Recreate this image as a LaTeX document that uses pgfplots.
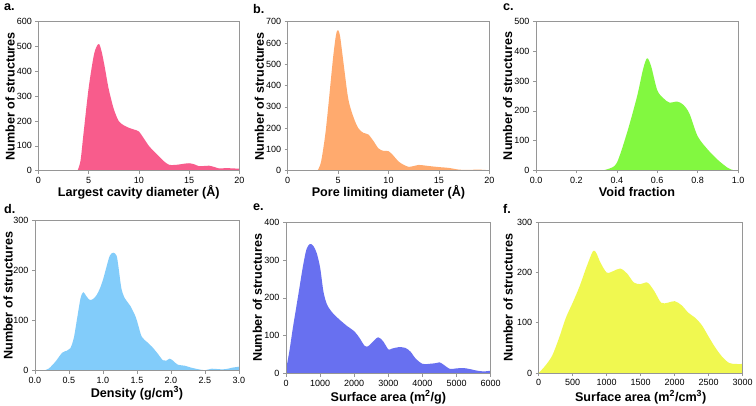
\documentclass[border=0pt]{standalone}
\usepackage{pgfplots}
\pgfplotsset{compat=1.18}
\usepackage{fontspec}
\setmainfont{Liberation Sans}
\definecolor{colA}{RGB}{248,92,140}
\definecolor{colB}{RGB}{255,170,110}
\definecolor{colC}{RGB}{130,248,64}
\definecolor{colD}{RGB}{130,204,250}
\definecolor{colE}{RGB}{104,112,240}
\definecolor{colF}{RGB}{240,248,80}
\definecolor{frame}{RGB}{150,150,150}
\newcommand\labfont{\bfseries\fontsize{12.6bp}{14bp}\selectfont}
\pgfplotsset{
  panel/.style={
    scale only axis, anchor=north west, axis on top,
    axis line style={draw=frame, line width=0.7pt},
    tick style={draw=frame, line width=0.6pt},
    tick align=outside, tick pos=left, major tick length=3bp,
    ticklabel style={font=\fontsize{9bp}{10bp}\selectfont},
    ylabel={Number of structures},
    ylab/.default=-0.14, xlab/.default=-0.145,
    ylab, xlab,
    ymin=0,
    /pgf/number format/assume math mode=true,
    /pgf/number format/1000 sep={},
  },
  ylab/.style={every axis y label/.style={at={(axis description cs:#1,0.5)}, anchor=center, rotate=90, font=\labfont}},
  xlab/.style={every axis x label/.style={at={(axis description cs:0.5,#1)}, anchor=center, font=\labfont}},
  curve/.style={draw=none, fill=#1, smooth, tension=0.5},
}
\begin{document}
\begin{tikzpicture}
\useasboundingbox (0,0) rectangle (756bp,-406bp);
\fill[white] (0,0) rectangle (756bp,-406bp);
% a
\begin{axis}[panel, at={(38.3bp,-21.7bp)}, width=201bp, height=149bp,
  xmin=0, xmax=20, ymax=600, xtick={0,5,10,15,20}, ytick={0,100,...,600},
  xlabel={Largest cavity diameter (Å)}]
\addplot[draw=none, fill=colA] coordinates {(0,3.5) (2.95,3.5)} \closedcycle;
\addplot[curve=colA] coordinates {(3.9,0) (4.2,40) (4.5,150) (5,330) (5.5,460) (5.8,500) (6.05,510) (6.3,480) (6.6,420) (7,330) (7.5,250) (8,200) (8.5,183) (9,173) (9.5,166) (10,158) (10.5,130) (11,100) (11.5,78) (12,58) (12.5,38) (13,24) (13.5,23) (14,25) (14.5,28) (15,30) (15.5,26) (16,18) (16.5,19) (17,20) (17.5,15) (18,9) (18.5,10) (19,10) (19.5,9) (20,8)} \closedcycle;
\end{axis}
% b
\begin{axis}[panel, at={(287.7bp,-21.7bp)}, width=201.6bp, height=149bp,
  xmin=0, xmax=20, ymax=700, xtick={0,5,10,15,20}, ytick={0,100,...,700},
  xlabel={Pore limiting diameter (Å)}]
\addplot[draw=none, fill=colB] coordinates {(0,3) (2,3)} \closedcycle;
\addplot[curve=colB] coordinates {(2.95,0) (3.3,40) (3.7,160) (4,290) (4.5,530) (4.8,640) (5,660) (5.2,630) (5.5,520) (6,340) (6.5,255) (7,200) (7.5,178) (8,170) (8.5,140) (9,105) (9.5,93) (10,92) (10.5,70) (11,43) (11.5,28) (12,18) (12.5,22) (13,27) (13.5,25) (14,22) (15,17) (16,13) (17,5) (18,4) (19,5) (20,2)} \closedcycle;
\end{axis}
% c
\begin{axis}[panel, at={(536bp,-21.7bp)}, width=202bp, height=148.6bp,
  xmin=0, xmax=1, ymax=500, xtick={0,0.2,...,1.0}, ytick={0,100,...,500},
  xticklabel style={/pgf/number format/.cd, fixed, fixed zerofill, precision=1},
  xlabel={Void fraction}]
\addplot[curve=colC] coordinates {(0.33,0) (0.36,5) (0.4,25) (0.45,125) (0.5,248) (0.53,340) (0.55,377) (0.57,350) (0.6,270) (0.63,243) (0.66,228) (0.7,231) (0.73,220) (0.76,190) (0.8,115) (0.85,70) (0.9,35) (0.95,8) (0.98,0) (1,0)} \closedcycle;
\end{axis}
% d
\begin{axis}[panel, at={(35bp,-220.7bp)}, width=204bp, height=150bp,
  xmin=0, xmax=3, ymax=300, xtick={0,0.5,...,3.0}, ytick={0,100,200,300},
  xticklabel style={/pgf/number format/.cd, fixed, fixed zerofill, precision=1},
  ylab=-0.132, xlab=-0.15,
  xlabel={Density (g/cm\textsuperscript{3})}]
\addplot[curve=colD] coordinates {(0.12,0) (0.2,4) (0.3,18) (0.4,36) (0.47,40) (0.52,45) (0.57,65) (0.62,105) (0.67,145) (0.71,157) (0.75,150) (0.8,142) (0.85,143) (0.9,150) (0.95,163) (1.0,182) (1.05,207) (1.1,230) (1.15,236) (1.2,230) (1.23,205) (1.27,165) (1.32,145) (1.4,130) (1.48,108) (1.52,90) (1.57,68) (1.65,57) (1.72,48) (1.8,35) (1.88,21) (1.93,20) (1.98,24) (2.03,20) (2.1,12) (2.2,10) (2.3,6) (2.4,3) (2.5,1) (2.6,4) (2.7,3) (2.8,3) (2.9,6) (3.0,8)} \closedcycle;
\end{axis}
% e
\begin{axis}[panel, at={(286bp,-222bp)}, width=204.7bp, height=151.7bp,
  xmin=0, xmax=6000, ymax=400, xtick={0,1000,...,6000}, ytick={0,100,...,400},
  scaled x ticks=false, xlab=-0.155,
  xlabel={Surface area (m\textsuperscript{2}/g)}]
\addplot[curve=colE] coordinates {(0,10) (100,60) (200,120) (300,175) (400,230) (500,285) (600,328) (700,342) (800,337) (900,318) (1000,280) (1100,215) (1200,183) (1300,168) (1400,157) (1600,140) (1800,125) (2000,112) (2150,95) (2300,74) (2400,72) (2500,80) (2700,96) (2850,85) (3000,64) (3100,66) (3300,70) (3500,68) (3650,58) (3800,40) (4000,26) (4200,26) (4400,28) (4500,30) (4600,25) (4800,13) (5000,14) (5200,15) (5400,12) (5600,8) (5800,6) (6000,8)} \closedcycle;
\end{axis}
% f
\begin{axis}[panel, at={(538.7bp,-222.3bp)}, width=204bp, height=150.7bp,
  xmin=0, xmax=3000, ymax=300, xtick={0,500,...,3000}, ytick={0,100,200,300},
  scaled x ticks=false, ylab=-0.15, xlab=-0.16,
  xlabel={Surface area (m\textsuperscript{2}/cm\textsuperscript{3})}]
\addplot[curve=colF] coordinates {(0,0) (100,15) (200,35) (300,70) (400,110) (500,140) (600,172) (700,210) (800,243) (850,238) (900,222) (1000,200) (1100,203) (1200,208) (1300,198) (1400,180) (1500,177) (1600,180) (1700,163) (1800,140) (1900,140) (2000,143) (2100,135) (2200,120) (2300,110) (2400,95) (2500,72) (2600,50) (2700,32) (2800,20) (2900,18) (3000,18)} \closedcycle;
\end{axis}
\node[anchor=north west, inner sep=0pt, font=\labfont] at (4bp,-4bp) {a.};
\node[anchor=north west, inner sep=0pt, font=\labfont] at (253bp,-4bp) {b.};
\node[anchor=north west, inner sep=0pt, font=\labfont] at (503bp,-4bp) {c.};
\node[anchor=north west, inner sep=0pt, font=\labfont] at (4bp,-204bp) {d.};
\node[anchor=north west, inner sep=0pt, font=\labfont] at (253bp,-204bp) {e.};
\node[anchor=north west, inner sep=0pt, font=\labfont] at (503bp,-204bp) {f.};
\end{tikzpicture}
\end{document}
